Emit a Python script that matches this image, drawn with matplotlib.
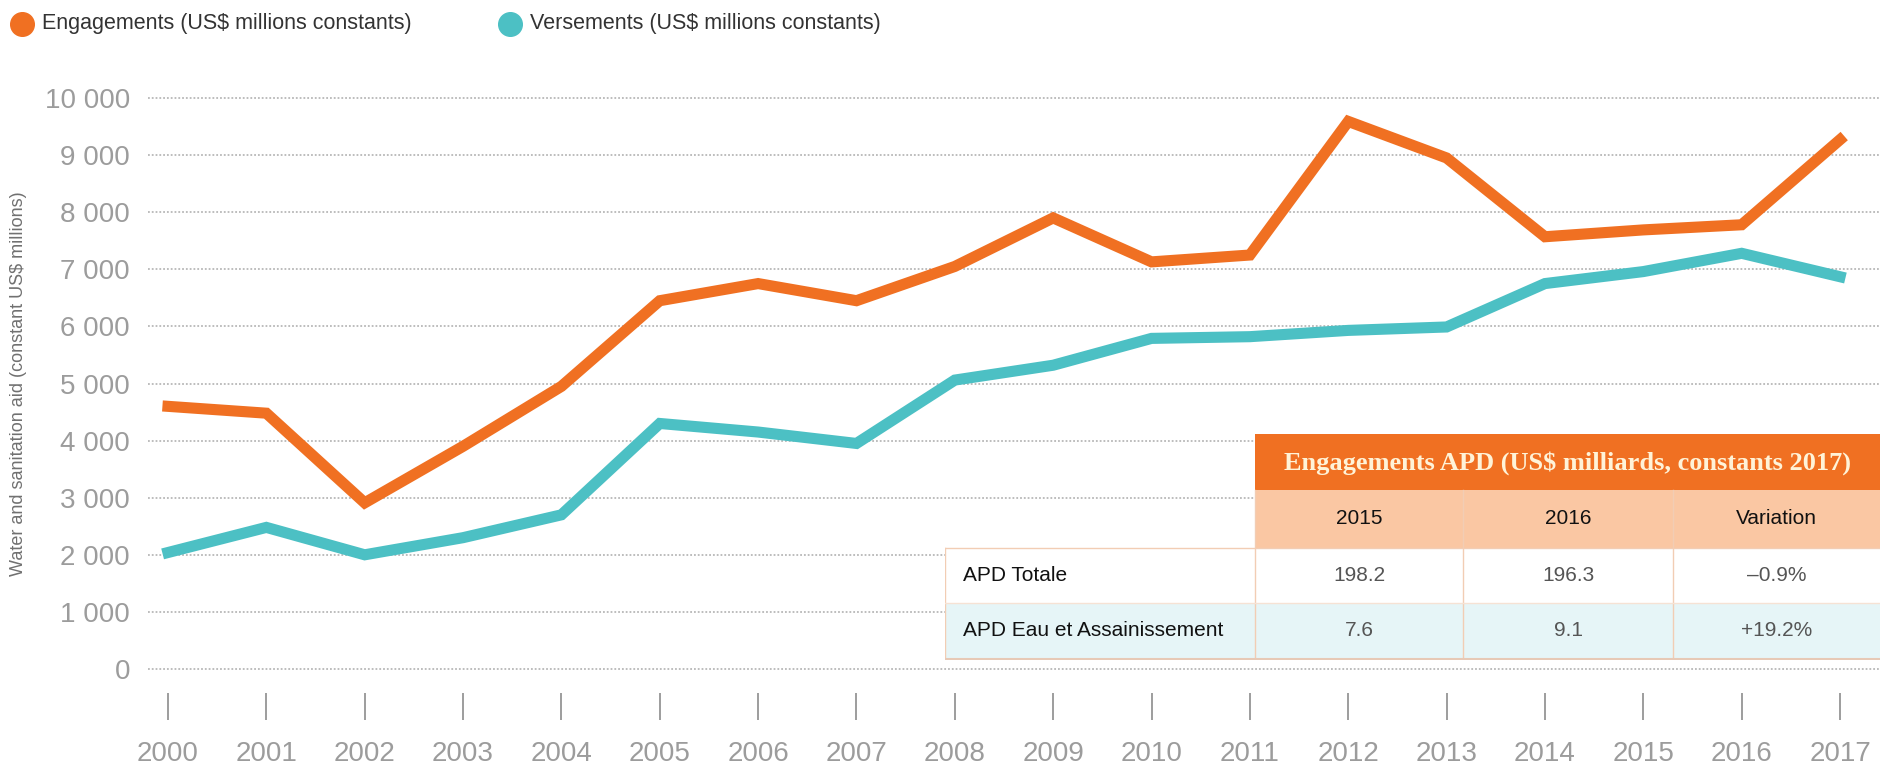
import matplotlib.pyplot as plt
from matplotlib.patches import Rectangle
from matplotlib.lines import Line2D

# data
years = list(range(2000, 2018))
engagements = [4600, 4480, 2910, 3900, 4950, 6450, 6750, 6450, 7050, 7900,
               7130, 7250, 9590, 8950, 7570, 7690, 7780, 9270]
versements = [2040, 2480, 2000, 2300, 2700, 4300, 4150, 3950, 5060, 5320,
              5790, 5820, 5930, 5990, 6750, 6960, 7280, 6870]
y_ticks = [0, 1000, 2000, 3000, 4000, 5000, 6000, 7000, 8000, 9000, 10000]
y_tick_labels = ["0", "1 000", "2 000", "3 000", "4 000", "5 000",
                 "6 000", "7 000", "8 000", "9 000", "10 000"]
series_labels = ["Engagements (US$ millions constants)",
                 "Versements (US$ millions constants)"]
y_label = "Water and sanitation aid (constant US$ millions)"

table_title = "Engagements APD (US$ milliards, constants 2017)"
table_cols = ["2015", "2016", "Variation"]
table_rows = ["APD Totale", "APD Eau et Assainissement"]
table_values = [["198.2", "196.3", "\u20130.9%"],
                ["7.6", "9.1", "+19.2%"]]

ORANGE = "#f07022"
TEAL = "#4cc0c4"
GRAY = "#9c9c9c"
NARROW = ["Liberation Sans Narrow", "Liberation Sans", "DejaVu Sans"]

W, H = 1880, 763
fig = plt.figure(figsize=(W / 100, H / 100), dpi=100)

# main chart, placed in pixel terms
ax = fig.add_axes([148 / W, (H - 669) / H, (W - 148) / W, (669 - 98) / H])
step = 98.4
ax.set_xlim(years[0] - 20 / step, years[-1] + 40 / step)
ax.set_ylim(0, 10000)
for s in ax.spines.values():
    s.set_visible(False)

for v in y_ticks:
    ax.axhline(v, color="#b8b8b8", lw=1.3, ls=(0, (1, 1.1)), zorder=0, clip_on=False)

ax.plot(years, engagements, color=ORANGE, lw=8, solid_joinstyle="miter", zorder=3, clip_on=False)
ax.plot(years, versements, color=TEAL, lw=8, solid_joinstyle="miter", zorder=3, clip_on=False)

ax.set_yticks(y_ticks)
ax.set_yticklabels(y_tick_labels, family=NARROW, fontsize=20, color=GRAY)
ax.tick_params(axis="y", length=0, pad=13)
ax.set_xticks([])

# tick marks and year labels below the plot
ax.vlines(years, -900, -420, color="#8c8c8c", lw=1.2, clip_on=False)
for yr in years:
    ax.text(yr, -1480, str(yr), ha="center", va="center", family=NARROW,
            fontsize=20, color=GRAY, clip_on=False)

fig.text(19 / W, 1 - 384 / H, y_label, rotation=90, ha="center", va="center",
         family=NARROW, fontsize=13, color="#707070")

# legend
for (x0, col), lab in zip([(22, ORANGE), (510, TEAL)], series_labels):
    fig.add_artist(Line2D([x0 / W], [1 - 24 / H], marker="o", ms=17, color=col,
                          transform=fig.transFigure))
    fig.text((x0 + 20) / W, 1 - 24 / H, lab, ha="left", va="center",
             family=NARROW, fontsize=15.5, color="#333333")

# summary table, drawn in pixel coordinates
tab = fig.add_axes([945 / W, (H - 660) / H, (W - 945) / W, (660 - 434) / H])
tab.set_xlim(945, W)
tab.set_ylim(660, 434)
tab.axis("off")

col_edges = [945, 1255, 1463, 1673, W]
row_edges = [434, 490, 548, 603, 659]
border = "#f2cdb4"

tab.add_patch(Rectangle((1255, 434), W - 1255, 56, color=ORANGE, lw=0))
tab.add_patch(Rectangle((1255, 490), W - 1255, 58, color="#fac7a3", lw=0))
tab.add_patch(Rectangle((945, 548), W - 945, 55, color="white", lw=0))
tab.add_patch(Rectangle((945, 603), W - 945, 56, color="#e6f5f7", lw=0))

tab.text((1255 + W) / 2, 463, table_title, ha="center", va="center",
         family=["Liberation Serif", "DejaVu Serif"], weight="bold",
         fontsize=19, color="#fff3d8")

for i, c in enumerate(table_cols):
    cx = (col_edges[i + 1] + col_edges[i + 2]) / 2
    tab.text(cx, 519, c, ha="center", va="center", family=NARROW, fontsize=15, color="#111111")

for r, (rl, vals) in enumerate(zip(table_rows, table_values)):
    cy = (row_edges[r + 2] + row_edges[r + 3]) / 2
    tab.text(963, cy, rl, ha="left", va="center", family=NARROW, fontsize=15, color="#111111")
    for i, v in enumerate(vals):
        cx = (col_edges[i + 1] + col_edges[i + 2]) / 2
        tab.text(cx, cy, v, ha="center", va="center", family=NARROW, fontsize=15, color="#555555")

# cell borders
for x in col_edges[1:-1]:
    tab.plot([x, x], [490, 659], color=border, lw=1)
tab.plot([945, 945], [548, 659], color=border, lw=1)
tab.plot([945, W], [548, 548], color=border, lw=1)
tab.plot([945, W], [603, 603], color="#f6e2d4", lw=1)
tab.plot([945, W], [659, 659], color="#e7c9b6", lw=1.5)

fig.savefig("out.png", dpi=100)
